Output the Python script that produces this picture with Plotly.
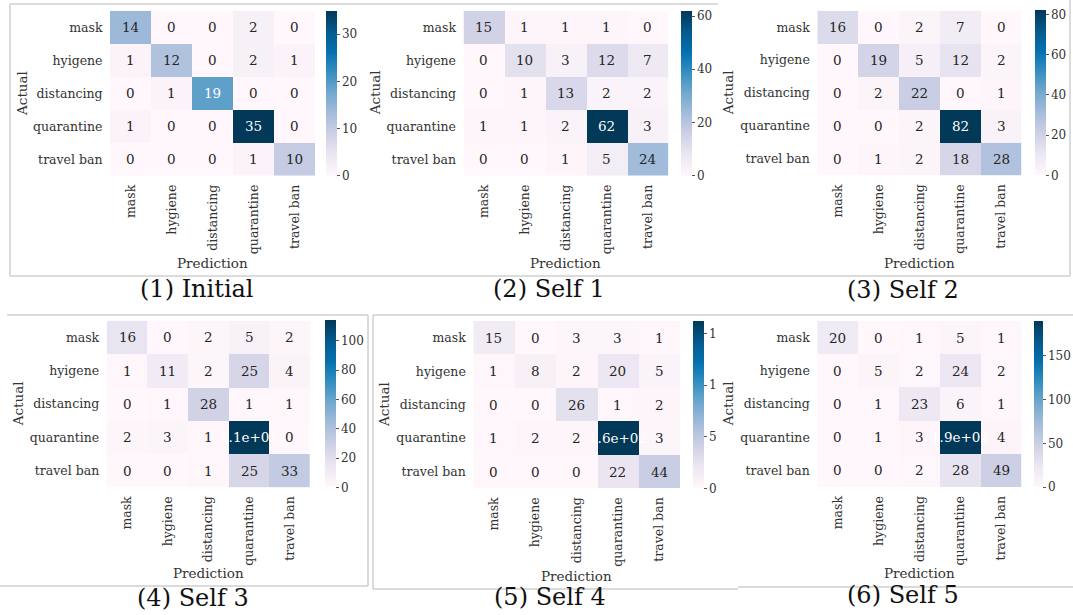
import plotly.graph_objects as go
from plotly.colors import sample_colorscale, unlabel_rgb

W, H = 1073, 615

# Class labels (row labels keep the original spelling)
actual_labels = ["mask", "hyigene", "distancing", "quarantine", "travel ban"]
pred_labels = ["mask", "hygiene", "distancing", "quarantine", "travel ban"]

# Confusion matrices, rows = actual, columns = prediction
cm_initial = [[14, 0, 0, 2, 0],
              [1, 12, 0, 2, 1],
              [0, 1, 19, 0, 0],
              [1, 0, 0, 35, 0],
              [0, 0, 0, 1, 10]]
cm_self1 = [[15, 1, 1, 1, 0],
            [0, 10, 3, 12, 7],
            [0, 1, 13, 2, 2],
            [1, 1, 2, 62, 3],
            [0, 0, 1, 5, 24]]
cm_self2 = [[16, 0, 2, 7, 0],
            [0, 19, 5, 12, 2],
            [0, 2, 22, 0, 1],
            [0, 0, 2, 82, 3],
            [0, 1, 2, 18, 28]]
cm_self3 = [[16, 0, 2, 5, 2],
            [1, 11, 2, 25, 4],
            [0, 1, 28, 1, 1],
            [2, 3, 1, 114, 0],
            [0, 0, 1, 25, 33]]
cm_self4 = [[15, 0, 3, 3, 1],
            [1, 8, 2, 20, 5],
            [0, 0, 26, 1, 2],
            [1, 2, 2, 162, 3],
            [0, 0, 0, 22, 44]]
cm_self5 = [[20, 0, 1, 5, 1],
            [0, 5, 2, 24, 2],
            [0, 1, 23, 6, 1],
            [0, 1, 3, 190, 4],
            [0, 0, 2, 28, 49]]

panel_titles = ["(1) Initial", "(2) Self 1", "(3) Self 2",
                "(4) Self 3", "(5) Self 4", "(6) Self 5"]
matrices = [cm_initial, cm_self1, cm_self2, cm_self3, cm_self4, cm_self5]
cbar_dticks = [10, 20, 20, 20, 50, 50]

# Pixel layout of each panel: heatmap box, colorbar x-range, label centres
panels = [
    dict(hm=(110, 10.7, 315, 175.7), cb=(326, 336.5), act_x=21.7, pred_y=262.7, title=(197, 289)),
    dict(hm=(463.5, 10.7, 668.3, 175.7), cb=(681, 691.7), act_x=375, pred_y=262.7, title=(549, 289)),
    dict(hm=(817.3, 10.7, 1021.7, 175.3), cb=(1035, 1046), act_x=728.3, pred_y=262.7, title=(902.5, 290)),
    dict(hm=(106.7, 320.7, 310, 487.3), cb=(325, 335.7), act_x=18.3, pred_y=573.3, title=(192.5, 598)),
    dict(hm=(473.3, 321, 680, 488.3), cb=(692.7, 703.3), act_x=383.3, pred_y=575.7, title=(549.5, 597)),
    dict(hm=(817.3, 321, 1021.7, 487), cb=(1034, 1043.3), act_x=728.3, pred_y=573.3, title=(902.5, 595)),
]

FONT = "DejaVu Serif"
TXT = "#333333"
scale = "PuBu"


def fx(px):
    return px / W


def fy(py):
    return 1 - py / H


def fmt_g2(v):
    # seaborn default annotation format ".2g"
    return format(v, ".2g")


def text_color(v, vmax):
    rgb = unlabel_rgb(sample_colorscale(scale, [v / vmax])[0])
    lin = []
    for c in rgb:
        c = c / 255.0
        lin.append(c / 12.92 if c <= 0.03928 else ((c + 0.055) / 1.055) ** 2.4)
    lum = 0.2126 * lin[0] + 0.7152 * lin[1] + 0.0722 * lin[2]
    return "#262626" if lum > 0.408 else "#ffffff"


fig = go.Figure()
annotations = []
layout_axes = {}

for i, (cm, p) in enumerate(zip(matrices, panels)):
    k = i + 1
    xa = "x" if k == 1 else f"x{k}"
    ya = "y" if k == 1 else f"y{k}"
    ca = "coloraxis" if k == 1 else f"coloraxis{k}"
    vmax = max(max(r) for r in cm)
    x0, y0, x1, y1 = p["hm"]

    fig.add_trace(go.Heatmap(
        z=cm, x=pred_labels, y=actual_labels, coloraxis=ca,
        xaxis=xa, yaxis=ya, hoverinfo="skip", xgap=0, ygap=0,
    ))

    layout_axes["xaxis" if k == 1 else f"xaxis{k}"] = dict(
        domain=[fx(x0), fx(x1)], anchor=ya, tickangle=-90,
        ticks="outside", ticklen=3, tickcolor="rgba(0,0,0,0)",
        tickfont=dict(family=FONT, size=12.5, color=TXT),
        showgrid=False, zeroline=False, showline=False, fixedrange=True,
    )
    layout_axes["yaxis" if k == 1 else f"yaxis{k}"] = dict(
        domain=[fy(y1), fy(y0)], anchor=xa, autorange="reversed",
        ticks="outside", ticklen=4, tickcolor="rgba(0,0,0,0)",
        tickfont=dict(family=FONT, size=12.5, color=TXT),
        showgrid=False, zeroline=False, showline=False, fixedrange=True,
    )
    cx0, cx1 = p["cb"]
    layout_axes[ca] = dict(
        colorscale=scale, cmin=0, cmax=vmax,
        colorbar=dict(
            x=fx(cx0), xanchor="left", xpad=0, ypad=0,
            y=fy(y1), yanchor="bottom", len=(y1 - y0) / H, lenmode="fraction",
            thickness=cx1 - cx0, thicknessmode="pixels", outlinewidth=0,
            dtick=cbar_dticks[i], tick0=0, ticks="outside", ticklen=3,
            tickcolor="#555555", tickwidth=1,
            tickfont=dict(family=FONT, size=12, color=TXT),
        ),
    )

    # cell values
    for r, row in enumerate(cm):
        for c, v in enumerate(row):
            annotations.append(dict(
                x=pred_labels[c], y=actual_labels[r], xref=xa, yref=ya,
                text=fmt_g2(v), showarrow=False,
                font=dict(family=FONT, size=13.5, color=text_color(v, vmax)),
            ))

    # axis titles
    annotations.append(dict(
        x=fx((x0 + x1) / 2), y=fy(p["pred_y"]), xref="paper", yref="paper",
        text="Prediction", showarrow=False, xanchor="center", yanchor="middle",
        font=dict(family=FONT, size=13.5, color=TXT),
    ))
    if k == 6:
        # the fifth panel is cut off at its right edge: blank strip over its colorbar labels
        annotations.append(dict(
            x=fx(717), y=fy(318), xref="paper", yref="paper", text=" ",
            showarrow=False, xanchor="left", yanchor="top",
            width=20, height=180, bgcolor="white", borderpad=0, borderwidth=0,
        ))
    annotations.append(dict(
        x=fx(p["act_x"]), y=fy((y0 + y1) / 2), xref="paper", yref="paper",
        text="Actual", showarrow=False, textangle=-90, xanchor="center", yanchor="middle",
        font=dict(family=FONT, size=13.5, color=TXT),
    ))
    # panel caption
    tx, ty = p["title"]
    annotations.append(dict(
        x=fx(tx), y=fy(ty), xref="paper", yref="paper",
        text=panel_titles[i], showarrow=False, xanchor="center", yanchor="middle",
        font=dict(family=FONT, size=24, color="#111111"),
    ))

# thin frames around the panels
frame_lines = [
    (10, 4, 10, 276), (10, 4, 718, 4), (10, 276, 1070, 276), (1070, 0, 1070, 276),
    (7, 315, 368, 315), (373, 315, 1073, 315),
    (368, 315, 368, 586), (0, 586, 368, 586),
    (373, 315, 373, 589), (373, 589, 738, 589), (738, 587, 1073, 587),
]
shapes = [dict(type="line", xref="paper", yref="paper",
               x0=fx(a), y0=fy(b), x1=fx(c), y1=fy(d),
               line=dict(color="#cfcfcf", width=1.5))
          for a, b, c, d in frame_lines]

fig.update_layout(
    width=W, height=H, margin=dict(l=0, r=0, t=0, b=0),
    paper_bgcolor="white", plot_bgcolor="white",
    annotations=annotations, shapes=shapes, showlegend=False,
    **layout_axes,
)

fig.write_html("out.html")
